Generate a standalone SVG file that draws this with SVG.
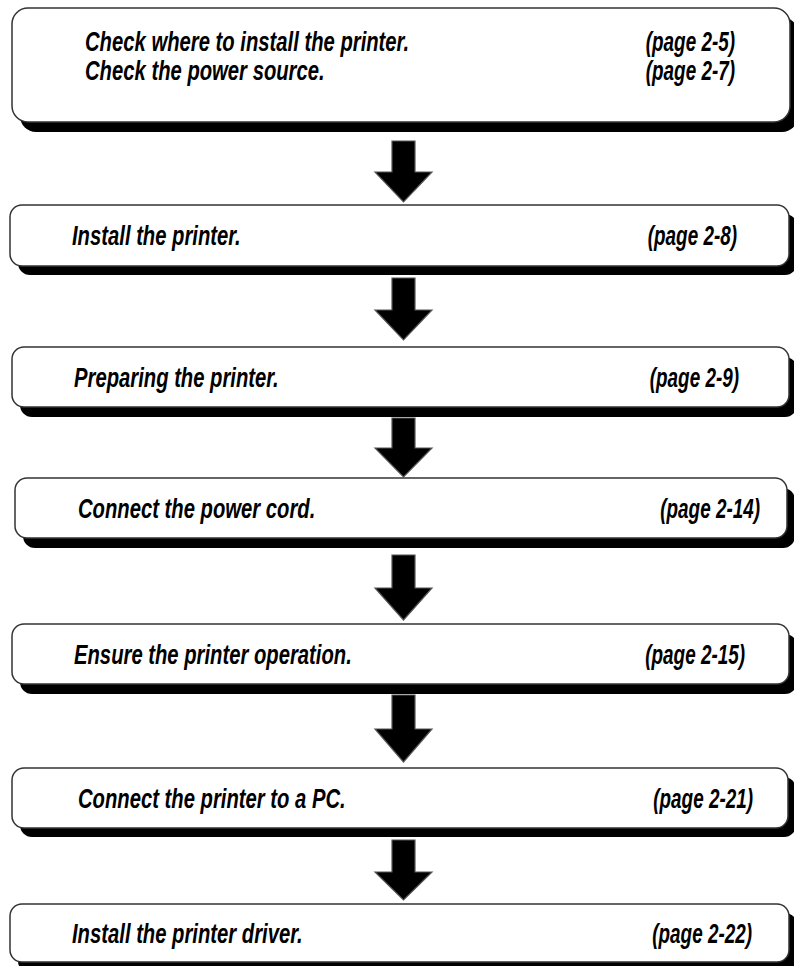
<svg xmlns="http://www.w3.org/2000/svg" width="794" height="966" viewBox="0 0 794 966">
<style>
  .shadow { fill: #000; }
  .box { fill: #fff; stroke: #333; stroke-width: 1.5; }
  .t { font-family: "Liberation Sans", Arial, Helvetica, sans-serif; font-size: 27px; font-weight: bold; font-style: italic; fill: #000; }
  .end { text-anchor: end; }
  .arrow { fill: #000; stroke: #555; stroke-width: 1.2; stroke-linejoin: miter; }
</style>
<rect width="794" height="966" fill="#fff"/>

<g id="connectors">
  <polygon class="arrow" points="392,141 415,141 415,172 432,172 403.5,202 375,172 392,172"/>
  <polygon class="arrow" points="392,278 415,278 415,310 432,310 403.5,340 375,310 392,310"/>
  <polygon class="arrow" points="392,418 415,418 415,448 432,448 403.5,477 375,448 392,448"/>
  <polygon class="arrow" points="392,555 415,555 415,588 432,588 403.5,620 375,588 392,588"/>
  <polygon class="arrow" points="392,695 415,695 415,729 432,729 403.5,762 375,729 392,729"/>
  <polygon class="arrow" points="392,840 415,840 415,872 432,872 403.5,900 375,872 392,872"/>
</g>

<g id="node-1">
  <rect class="shadow" x="20" y="17" width="778" height="115" rx="16"/>
  <rect class="box" x="12" y="8" width="778" height="114" rx="16"/>
  <text class="t" transform="translate(85,51) scale(0.75,1)">Check where to install the printer.</text>
  <text class="t end" transform="translate(735,51) scale(0.7,1)">(page 2-5)</text>
  <text class="t" transform="translate(85,80) scale(0.75,1)">Check the power source.</text>
  <text class="t end" transform="translate(735,80) scale(0.7,1)">(page 2-7)</text>
</g>

<g id="node-2">
  <rect class="shadow" x="18" y="214" width="779" height="61" rx="12"/>
  <rect class="box" x="10" y="205" width="779" height="61" rx="12"/>
  <text class="t" transform="translate(72,245) scale(0.75,1)">Install the printer.</text>
  <text class="t end" transform="translate(737,245) scale(0.7,1)">(page 2-8)</text>
</g>

<g id="node-3">
  <rect class="shadow" x="20" y="357" width="777" height="60" rx="12"/>
  <rect class="box" x="12" y="347" width="777" height="60" rx="12"/>
  <text class="t" transform="translate(74,387) scale(0.75,1)">Preparing the printer.</text>
  <text class="t end" transform="translate(739,387) scale(0.7,1)">(page 2-9)</text>
</g>

<g id="node-4">
  <rect class="shadow" x="23" y="488" width="772" height="60" rx="12"/>
  <rect class="box" x="15" y="478" width="772" height="60" rx="12"/>
  <text class="t" transform="translate(78,518) scale(0.75,1)">Connect the power cord.</text>
  <text class="t end" transform="translate(760,518) scale(0.7,1)">(page 2-14)</text>
</g>

<g id="node-5">
  <rect class="shadow" x="20" y="634" width="777" height="60" rx="12"/>
  <rect class="box" x="12" y="624" width="777" height="60" rx="12"/>
  <text class="t" transform="translate(74,664) scale(0.75,1)">Ensure the printer operation.</text>
  <text class="t end" transform="translate(745,664) scale(0.7,1)">(page 2-15)</text>
</g>

<g id="node-6">
  <rect class="shadow" x="20" y="777" width="776" height="60" rx="12"/>
  <rect class="box" x="12" y="768" width="776" height="60" rx="12"/>
  <text class="t" transform="translate(78,808) scale(0.75,1)">Connect the printer to a PC.</text>
  <text class="t end" transform="translate(753,808) scale(0.7,1)">(page 2-21)</text>
</g>

<g id="node-7">
  <rect class="shadow" x="18" y="913" width="779" height="60" rx="12"/>
  <rect class="box" x="10" y="904" width="779" height="58" rx="12"/>
  <text class="t" transform="translate(72,943) scale(0.75,1)">Install the printer driver.</text>
  <text class="t end" transform="translate(752,943) scale(0.7,1)">(page 2-22)</text>
</g>
</svg>
